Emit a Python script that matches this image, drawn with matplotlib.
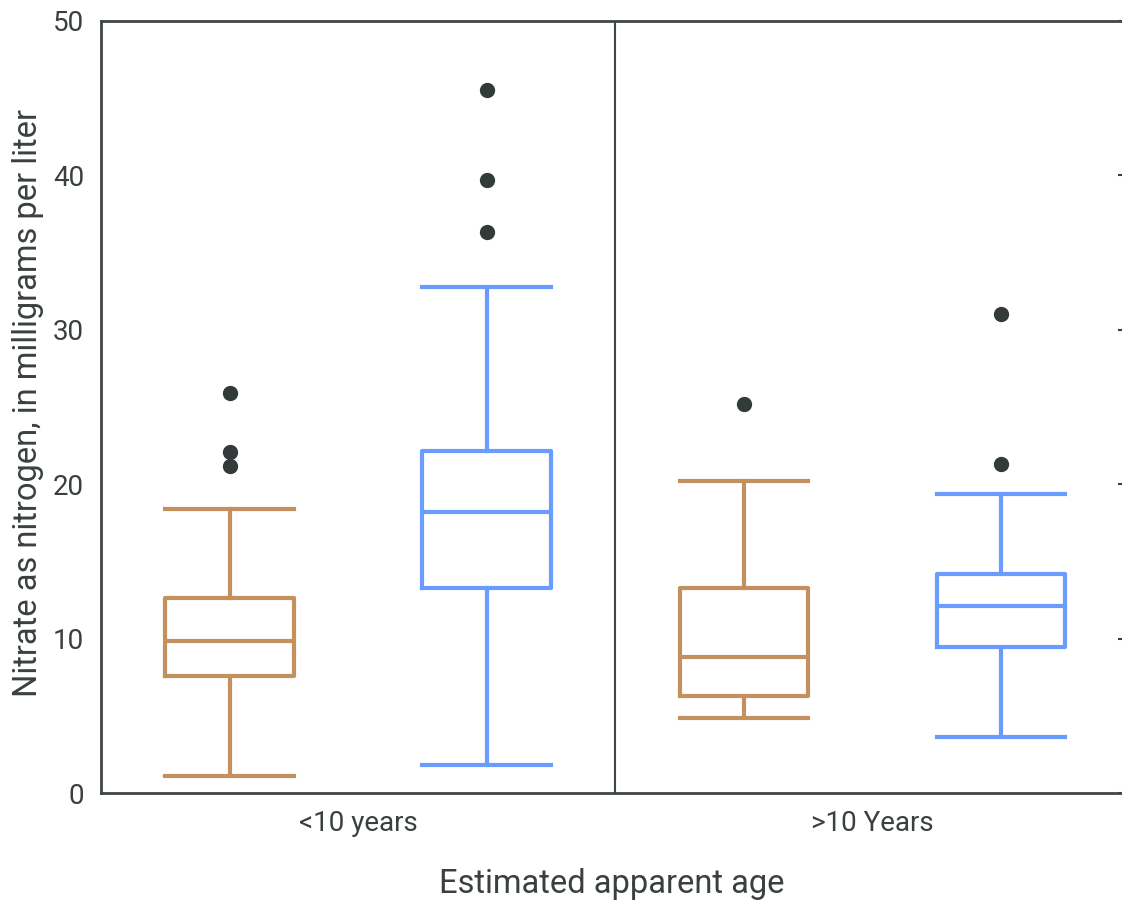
import matplotlib
matplotlib.use("Agg")
import matplotlib.pyplot as plt

plt.rcParams['font.family'] = ['Roboto', 'DejaVu Sans']

groups = ["<10 years", ">10 Years"]
series_colors = ["#C4915E", "#6A9BFF"]
# per box: whislo, q1, med, q3, whishi, outliers
whislo = [1.1, 1.8, 4.85, 3.6]
q1 = [7.6, 13.3, 6.3, 9.45]
med = [9.85, 18.2, 8.8, 12.1]
q3 = [12.65, 22.15, 13.3, 14.2]
whishi = [18.4, 32.75, 20.2, 19.35]
fliers = [[25.9, 22.1, 21.2], [36.35, 39.7, 45.55], [25.2], [31.0, 21.3]]
box_colors = [series_colors[0], series_colors[1], series_colors[0], series_colors[1]]

fig = plt.figure(figsize=(11.22, 9.01), dpi=100)
ax = fig.add_axes([101/1122, 1 - 793/901, (1129.5 - 101)/1122, (793 - 21)/901])

stats = []
for i in range(4):
    stats.append(dict(whislo=whislo[i], q1=q1[i], med=med[i], q3=q3[i],
                      whishi=whishi[i], fliers=fliers[i]))
positions = [1, 2, 3, 4]
lw = 3.0
for i, s in enumerate(stats):
    c = box_colors[i]
    ax.bxp([s], positions=[positions[i]], widths=0.5, capwidths=0.5,
           boxprops=dict(color=c, linewidth=lw),
           medianprops=dict(color=c, linewidth=lw),
           whiskerprops=dict(color=c, linewidth=lw),
           capprops=dict(color=c, linewidth=lw),
           flierprops=dict(marker='o', markerfacecolor='#333A3A', markeredgecolor='#333A3A',
                           markersize=10, linestyle='none'))

ax.axvline(2.5, color='#404545', linewidth=1.5)
ax.set_xlim(0.5, 4.5)
ax.set_ylim(0, 50)
ax.set_yticks([0, 10, 20, 30, 40, 50])
ax.set_xticks([1.5, 3.5])
ax.set_xticklabels(groups)
for sp in ax.spines.values():
    sp.set_color('#404545')
    sp.set_linewidth(2)
ax.tick_params(axis='x', length=0, labelsize=20, colors='#3A3F3F', pad=12)
ax.tick_params(axis='y', left=False, right=True, direction='in', length=9, width=1.5,
               labelsize=20, colors='#3A3F3F', pad=12)
ax.set_ylabel("Nitrate as nitrogen, in milligrams per liter", fontsize=23.5, color='#3A3F3F')
ax.yaxis.set_label_coords(-(101 - 44) / (1129.5 - 101), (793 - 403) / 772)
ax.set_xlabel("Estimated apparent age", fontsize=23.5, color='#3A3F3F')
ax.xaxis.set_label_coords((612 - 101) / (1129.5 - 101), -0.097)

fig.savefig("out.png", dpi=100)
